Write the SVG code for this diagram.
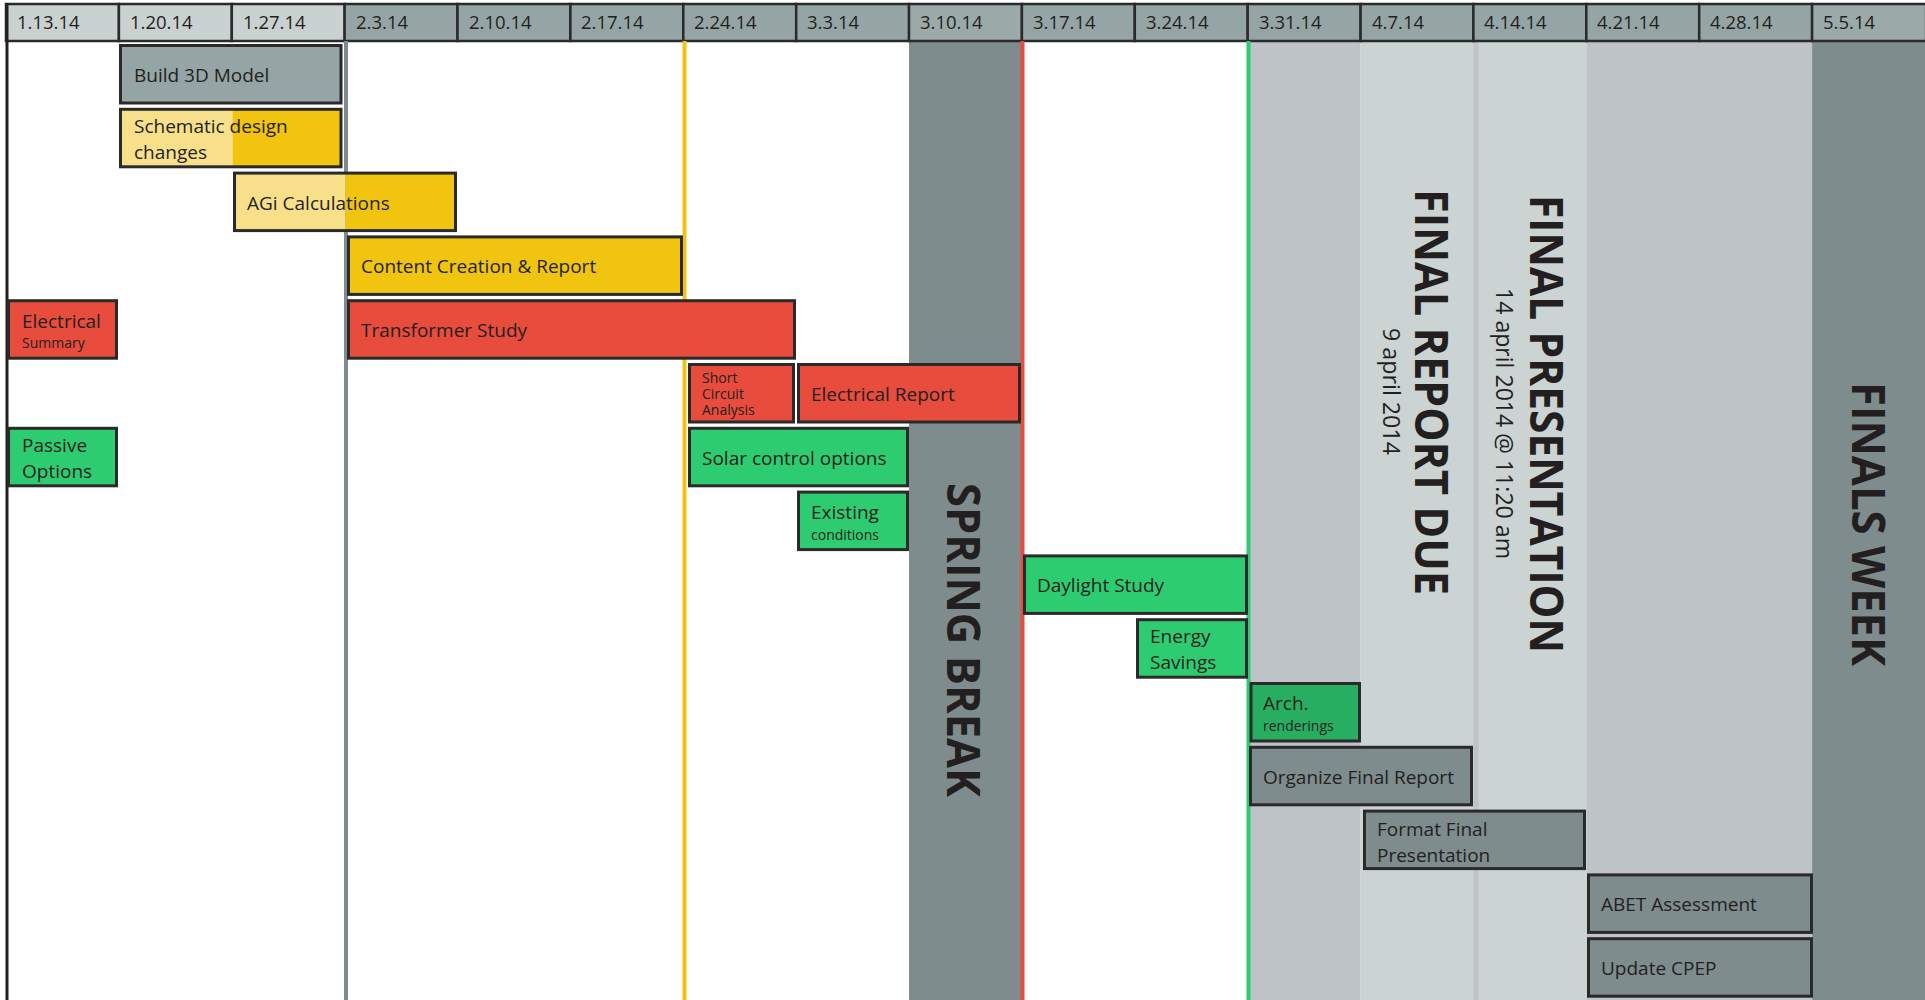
<svg xmlns="http://www.w3.org/2000/svg" width="1925" height="1000" viewBox="0 0 1925 1000">
<style>
.hd{stroke:#2b2a2a;stroke-width:2.5}
.hl{fill:#c9d1d1}
.hm{fill:#95a5a5}
.hx{fill:#9ba9a9}
.ht{font-family:"Open Sans","Liberation Sans",sans-serif;font-size:18.5px;fill:#231f20}
.bx{stroke:#2b2a2a;stroke-width:3}
.gr{fill:#95a5a5}
.dg{fill:#7f8c8d}
.rd{fill:#e74c3c}
.gn{fill:#2ecc71}
.dk{fill:#27ae60}
.yl{fill:#f1c40f}
.t{font-family:"Open Sans","Liberation Sans",sans-serif;font-size:19px;fill:#231f20}
.s{font-family:"Open Sans","Liberation Sans",sans-serif;font-size:14px;fill:#231f20}
.big{font-family:"Open Sans","Liberation Sans",sans-serif;font-weight:700;fill:#231f20}
.sub{font-family:"Open Sans","Liberation Sans",sans-serif;font-size:24px;fill:#231f20}
</style>
<rect x="0" y="0" width="1925" height="1000" fill="#ffffff"/>
<g id="bands">
<rect x="909" y="41" width="113" height="959" fill="#7f8c8d"/>
<rect x="1247.7" y="41" width="112.9" height="959" fill="#bdc3c7"/>
<rect x="1360.6" y="41" width="112.9" height="959" fill="#cbd3d3"/>
<rect x="1473.4" y="41" width="112.9" height="959" fill="#cbd3d3"/>
<rect x="1473.4" y="41" width="5" height="959" fill="#bdc3c7"/>
<rect x="1586.3" y="41" width="225.8" height="959" fill="#bdc3c7"/>
<rect x="1812.1" y="41" width="113" height="959" fill="#7f8c8d"/>
</g>
<g id="header">
<rect class="hd hl" x="6" y="4" width="112.9" height="37"/>
<rect class="hd hl" x="118.9" y="4" width="112.9" height="37"/>
<rect class="hd hl" x="231.8" y="4" width="112.9" height="37"/>
<rect class="hd hm" x="344.6" y="4" width="112.9" height="37"/>
<rect class="hd hm" x="457.5" y="4" width="112.9" height="37"/>
<rect class="hd hm" x="570.4" y="4" width="112.9" height="37"/>
<rect class="hd hm" x="683.3" y="4" width="112.9" height="37"/>
<rect class="hd hm" x="796.2" y="4" width="112.9" height="37"/>
<rect class="hd hx" x="909" y="4" width="112.9" height="37"/>
<rect class="hd hm" x="1021.9" y="4" width="112.9" height="37"/>
<rect class="hd hm" x="1134.8" y="4" width="112.9" height="37"/>
<rect class="hd hm" x="1247.7" y="4" width="112.9" height="37"/>
<rect class="hd hm" x="1360.6" y="4" width="112.9" height="37"/>
<rect class="hd hm" x="1473.4" y="4" width="112.9" height="37"/>
<rect class="hd hm" x="1586.3" y="4" width="112.9" height="37"/>
<rect class="hd hm" x="1699.2" y="4" width="112.9" height="37"/>
<rect class="hd hx" x="1812.1" y="4" width="114" height="37"/>
<text class="ht" x="17" y="29">1.13.14</text>
<text class="ht" x="130" y="29">1.20.14</text>
<text class="ht" x="243" y="29">1.27.14</text>
<text class="ht" x="356" y="29">2.3.14</text>
<text class="ht" x="469" y="29">2.10.14</text>
<text class="ht" x="581" y="29">2.17.14</text>
<text class="ht" x="694" y="29">2.24.14</text>
<text class="ht" x="807" y="29">3.3.14</text>
<text class="ht" x="920" y="29">3.10.14</text>
<text class="ht" x="1033" y="29">3.17.14</text>
<text class="ht" x="1146" y="29">3.24.14</text>
<text class="ht" x="1259" y="29">3.31.14</text>
<text class="ht" x="1372" y="29">4.7.14</text>
<text class="ht" x="1484" y="29">4.14.14</text>
<text class="ht" x="1597" y="29">4.21.14</text>
<text class="ht" x="1710" y="29">4.28.14</text>
<text class="ht" x="1823" y="29">5.5.14</text>
</g>
<g id="connectors" fill="none" stroke-width="4">
<line x1="7" y1="3" x2="7" y2="1000" stroke="#231f20" stroke-width="3"/>
<line x1="346" y1="41" x2="346" y2="1000" stroke="#7f8c8d"/>
<line x1="684.5" y1="41" x2="684.5" y2="1000" stroke="#f1c40f"/>
<line x1="1022.5" y1="41" x2="1022.5" y2="1000" stroke="#e74c3c"/>
<line x1="1248.5" y1="41" x2="1248.5" y2="1000" stroke="#2ecc71"/>
</g>
<g id="labels">
<text class="big" font-size="47" transform="translate(947,483) rotate(90)" textLength="314" lengthAdjust="spacingAndGlyphs">SPRING BREAK</text>
<text class="big" font-size="46" transform="translate(1415,189) rotate(90)" textLength="406" lengthAdjust="spacingAndGlyphs">FINAL REPORT DUE</text>
<text class="sub" transform="translate(1383,328) rotate(90)" textLength="127" lengthAdjust="spacingAndGlyphs">9 april 2014</text>
<text class="big" font-size="46" transform="translate(1530,195) rotate(90)" textLength="458" lengthAdjust="spacingAndGlyphs">FINAL PRESENTATION</text>
<text class="sub" transform="translate(1496,288) rotate(90)" textLength="271" lengthAdjust="spacingAndGlyphs">14 april 2014 @ 11:20 am</text>
<text class="big" font-size="46" transform="translate(1852,382) rotate(90)" textLength="284" lengthAdjust="spacingAndGlyphs">FINALS WEEK</text>
</g>
<g id="build3d"><rect class="bx gr" x="120.5" y="45.5" width="220.5" height="57.5"/><text class="t" x="134" y="82">Build 3D Model</text></g>
<g id="schematic"><rect x="120.5" y="109.3" width="112" height="57.5" fill="#f8df89"/><rect class="yl" x="232.5" y="109.3" width="108.5" height="57.5"/><rect class="bx" fill="none" x="120.5" y="109.3" width="220.5" height="57.5"/><text class="t" x="134" y="132.8">Schematic design</text><text class="t" x="134" y="158.8">changes</text></g>
<g id="agi"><rect x="234.5" y="173.1" width="111" height="57.5" fill="#f8df89"/><rect class="yl" x="345.5" y="173.1" width="110" height="57.5"/><rect class="bx" fill="none" x="234.5" y="173.1" width="221" height="57.5"/><text class="t" x="247" y="209.6">AGi Calculations</text></g>
<g id="content"><rect class="bx yl" x="348.5" y="236.9" width="333" height="57.5"/><text class="t" x="361" y="273.4">Content Creation &amp; Report</text></g>
<g id="elecsummary"><rect class="bx rd" x="8.5" y="300.7" width="108" height="57.5"/><text class="t" x="22" y="327.5">Electrical</text><text class="s" x="22" y="347.5">Summary</text></g>
<g id="transformer"><rect class="bx rd" x="348.5" y="300.7" width="446" height="57.5"/><text class="t" x="361" y="337.2">Transformer Study</text></g>
<g id="shortcircuit"><rect class="bx rd" x="689.5" y="364.5" width="104" height="57.5"/><text class="s" x="702" y="383">Short</text><text class="s" x="702" y="399">Circuit</text><text class="s" x="702" y="414.5">Analysis</text></g>
<g id="elecreport"><rect class="bx rd" x="798.5" y="364.5" width="221" height="57.5"/><text class="t" x="811" y="401">Electrical Report</text></g>
<g id="passive"><rect class="bx gn" x="8.5" y="428.3" width="108" height="57.5"/><text class="t" x="22" y="452">Passive</text><text class="t" x="22" y="478">Options</text></g>
<g id="solar"><rect class="bx gn" x="689.5" y="428.3" width="218" height="57.5"/><text class="t" x="702" y="464.8">Solar control options</text></g>
<g id="existing"><rect class="bx gn" x="798.5" y="492.1" width="109" height="57.5"/><text class="t" x="811" y="518.6">Existing</text><text class="s" x="811" y="539.5">conditions</text></g>
<g id="daylight"><rect class="bx gn" x="1024.5" y="555.9" width="222" height="57.5"/><text class="t" x="1037" y="592.4">Daylight Study</text></g>
<g id="energy"><rect class="bx gn" x="1137.5" y="619.7" width="109" height="57.5"/><text class="t" x="1150" y="643.2">Energy</text><text class="t" x="1150" y="669.2">Savings</text></g>
<g id="arch"><rect class="bx dk" x="1251" y="683.5" width="108.5" height="57.5"/><text class="t" x="1263" y="710">Arch.</text><text class="s" x="1263" y="730.5">renderings</text></g>
<g id="organize"><rect class="bx dg" x="1250.5" y="747.3" width="221" height="57.5"/><text class="t" x="1263" y="783.8">Organize Final Report</text></g>
<g id="format"><rect class="bx dg" x="1364.5" y="811.1" width="220" height="57.5"/><text class="t" x="1377" y="835.6">Format Final</text><text class="t" x="1377" y="861.6">Presentation</text></g>
<g id="abet"><rect class="bx dg" x="1588.5" y="874.9" width="223" height="57.5"/><text class="t" x="1601" y="911.4">ABET Assessment</text></g>
<g id="cpep"><rect class="bx dg" x="1588.5" y="938.7" width="223" height="57.5"/><text class="t" x="1601" y="975.2">Update CPEP</text></g>
</svg>
